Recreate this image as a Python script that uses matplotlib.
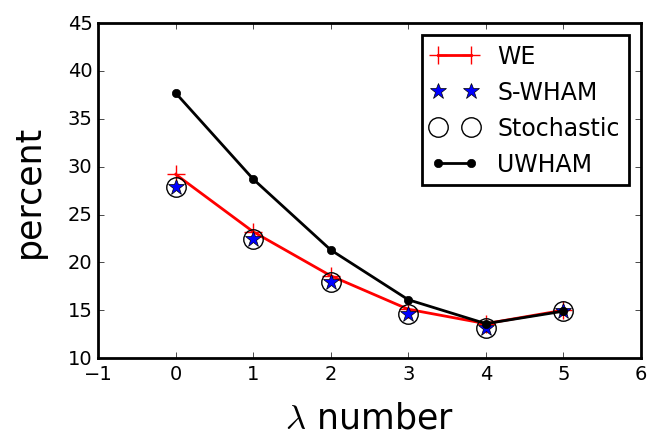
import numpy as np
import matplotlib
matplotlib.use("Agg")
import matplotlib.pyplot as plt

plt.style.use('classic')

lam = [0, 1, 2, 3, 4, 5]
we = [29.2, 23.2, 18.6, 15.1, 13.6, 15.0]
swham = [27.9, 22.4, 17.9, 14.6, 13.1, 14.9]
stoch = [27.9, 22.4, 17.9, 14.6, 13.1, 14.9]
uwham = [37.7, 28.7, 21.3, 16.1, 13.6, 14.9]

fig = plt.figure(figsize=(6.5, 4.39), dpi=100)
ax = fig.add_axes([0.151, 0.182, 0.835, 0.763])

ax.plot(lam, we, 'r-+', lw=2, ms=13, mew=1, label='WE')
ax.plot(lam, swham, '*', color='blue', mec='k', ms=12, ls='none', label='S-WHAM')
ax.plot(lam, stoch, 'o', mfc='none', mec='k', ms=14, mew=1, ls='none', label='Stochastic')
ax.plot(lam, uwham, 'k-o', lw=2, ms=6, label='UWHAM')

ax.set_xlim(-1, 6)
ax.set_ylim(10, 45)
ax.tick_params(labelsize=14)
ax.set_xlabel(r'$\lambda$ number', fontsize=25, labelpad=13)
ax.set_ylabel('percent', fontsize=25, labelpad=16)
for s in ax.spines.values():
    s.set_linewidth(2)

leg = ax.legend(loc='upper right', fontsize=17, numpoints=2, handlelength=2.0)
leg.get_frame().set_linewidth(2)

fig.savefig('out.png', dpi=100)
